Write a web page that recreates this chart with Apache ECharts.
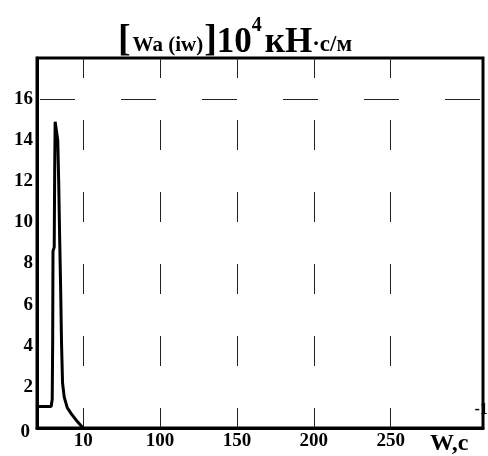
<!DOCTYPE html>
<html><head><meta charset="utf-8">
<script src="https://cdn.jsdelivr.net/npm/echarts@6/dist/echarts.min.js"></script>
<style>html,body{margin:0;padding:0;background:#fff}#c{width:488px;height:456px}</style>
</head><body><div id="c"></div>
<script>
// x axis: linear positions; tick values and their printed labels
const xTickValues = [50, 100, 150, 200, 250];
const xTickLabels = ['10', '100', '150', '200', '250'];
// y axis labels and the single dashed grid level
const yTickValues = [0, 2, 4, 6, 8, 10, 12, 14, 16];
const yGridValues = [16];
// curve (x position in axis units, value in 10^4 kN·s/m)
const curveX = [20.2, 29.2, 29.9, 30.2, 30.4, 31.2, 31.5, 31.8, 32.4, 33.5, 34.1, 34.8, 35.4, 35.9, 36.6, 37.7, 39.6, 42.2, 45.5, 49.4, 50.0];
const curveY = [1.05, 1.05, 1.4, 4.3, 8.6, 8.8, 12.5, 14.9, 14.9, 14.0, 12.0, 9.0, 6.7, 4.3, 2.2, 1.5, 1.0, 0.7, 0.38, 0.05, 0];

const serif = 'Liberation Serif';
const chart = echarts.init(document.getElementById('c'));
chart.setOption({
  animation: false,
  backgroundColor: '#fff',
  title: {
    left: 230, textAlign: 'center', top: 11,
    text: '{b|[}{s|Wa (iw)}{b|]}{n|10}{sup|4}{n|кН}{m|·с/м}',
    textStyle: {
      rich: {
        b: {fontFamily: serif, fontWeight: 'bold', fontSize: 38, color: '#000', verticalAlign: 'bottom', lineHeight: 44},
        s: {fontFamily: serif, fontWeight: 'bold', fontSize: 21, color: '#000', verticalAlign: 'bottom', lineHeight: 44, padding: [0, 1, 4, 2]},
        n: {fontFamily: serif, fontWeight: 'bold', fontSize: 35, color: '#000', verticalAlign: 'bottom', lineHeight: 44},
        sup: {fontFamily: serif, fontWeight: 'bold', fontSize: 20, color: '#000', verticalAlign: 'top', lineHeight: 44, padding: [0, 3, 22, 0]},
        m: {fontFamily: serif, fontWeight: 'bold', fontSize: 23, color: '#000', verticalAlign: 'bottom', lineHeight: 44, padding: [0, 0, 3, 0]}
      }
    }
  },
  grid: {left: 37, right: 5, top: 58, bottom: 28, show: true, borderColor: '#000', borderWidth: 3, containLabel: false, outerBoundsMode: 'none'},
  xAxis: {
    type: 'value', min: 20, max: 310,
    axisLine: {show: true, lineStyle: {color: '#000', width: 3}},
    axisTick: {show: false, customValues: xTickValues},
    splitLine: {show: true, lineStyle: {color: '#222', width: 1, type: [30, 42], dashOffset: 10}},
    axisLabel: {
      customValues: xTickValues, margin: 4,
      fontFamily: serif, fontWeight: 'bold', fontSize: 19, color: '#000',
      formatter: v => xTickLabels[xTickValues.indexOf(v)] || ''
    },
    name: '{w|W,c}{sup|-1}', nameLocation: 'end', nameGap: -53,
    nameTextStyle: {
      align: 'left', verticalAlign: 'middle', padding: [30, 0, 0, 0],
      rich: {
        w: {fontFamily: serif, fontWeight: 'bold', fontSize: 24, color: '#000', verticalAlign: 'bottom', lineHeight: 26},
        sup: {fontFamily: serif, fontWeight: 'bold', fontSize: 16, color: '#000', verticalAlign: 'bottom', lineHeight: 16, padding: [0, 0, 38, 6]}
      }
    }
  },
  yAxis: {
    type: 'value', min: 0, max: 18,
    axisLine: {show: true, lineStyle: {color: '#000', width: 3}},
    axisTick: {show: false, customValues: yGridValues},
    splitLine: {show: true, lineStyle: {color: '#222', width: 1, type: [35, 46], dashOffset: 78}},
    axisLabel: {
      customValues: yTickValues, margin: 4,
      fontFamily: serif, fontWeight: 'bold', fontSize: 19, color: '#000',
      formatter: v => v === 0 ? '{z|0}' : String(v),
      rich: {z: {fontFamily: serif, fontWeight: 'bold', fontSize: 19, color: '#000', padding: [9, 3, 0, 0]}}
    }
  },
  series: [{
    type: 'line', symbol: 'none', smooth: false,
    data: curveX.map((x, i) => [x, curveY[i]]),
    lineStyle: {color: '#000', width: 3},
    z: 5
  }]
});
</script></body></html>
